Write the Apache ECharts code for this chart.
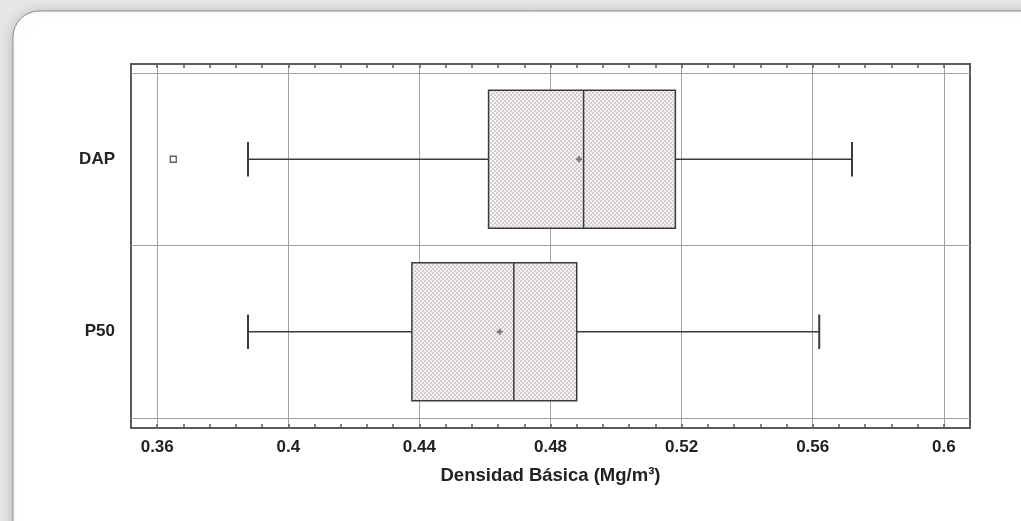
<!DOCTYPE html>
<html>
<head>
<meta charset="utf-8">
<script src="https://cdn.jsdelivr.net/npm/echarts@6/dist/echarts.min.js"></script>
<style>
  html, body { margin: 0; padding: 0; background: #e7e7e7; }
  #main { width: 1021px; height: 521px; }
</style>
</head>
<body>
<div id="main"></div>
<script>
// datos
const categories = ['DAP', 'P50'];
const whiskerLow = [0.3877, 0.3877];
const q1 = [0.4611, 0.4377];
const median = [0.4901, 0.4688];
const q3 = [0.5181, 0.4880];
const whiskerHigh = [0.5720, 0.5620];
const means = [0.4887, 0.4645];
const outlierValues = [0.3649];
const outlierCats = ['DAP'];
const tickLabels = ['0.36', '0.4', '0.44', '0.48', '0.52', '0.56', '0.6'];

const boxData = categories.map((c, i) => [i, whiskerLow[i], q1[i], median[i], q3[i], whiskerHigh[i]]);
const meanData = categories.map((c, i) => [means[i], c]);
const outlierData = outlierValues.map((v, i) => [v, outlierCats[i]]);

// trama del relleno de las cajas
const pat = document.createElement('canvas');
pat.width = 4; pat.height = 4;
const pc = pat.getContext('2d');
pc.fillStyle = '#f5f3f3';
pc.fillRect(0, 0, 4, 4);
pc.fillStyle = '#d3cdcd';
pc.fillRect(0, 0, 2, 2);
pc.fillRect(2, 2, 2, 2);
const hatch = { image: pat, repeat: 'repeat' };

const gridColor = '#a89f9f';
const frameColor = '#5f5959';
const lineColor = '#3e3939';
const font = '"Liberation Sans", Arial, sans-serif';

const myChart = echarts.init(document.getElementById('main'));

function renderBox(params, api) {
  const cat = api.value(0);
  const band = api.size([0, 1])[1];
  const y = api.coord([api.value(3), cat])[1];
  const boxH = band * 0.8;
  const capH = band * 0.2;
  const xLow = api.coord([api.value(1), cat])[0];
  const xQ1 = api.coord([api.value(2), cat])[0];
  const xMed = api.coord([api.value(3), cat])[0];
  const xQ3 = api.coord([api.value(4), cat])[0];
  const xHigh = api.coord([api.value(5), cat])[0];
  const ls = { stroke: lineColor, lineWidth: 1.5 };
  return {
    type: 'group',
    children: [
      { type: 'line', shape: { x1: xLow, y1: y, x2: xQ1, y2: y }, style: ls },
      { type: 'line', shape: { x1: xQ3, y1: y, x2: xHigh, y2: y }, style: ls },
      { type: 'line', shape: { x1: xLow, y1: y - capH / 2, x2: xLow, y2: y + capH / 2 }, style: { stroke: lineColor, lineWidth: 2 } },
      { type: 'line', shape: { x1: xHigh, y1: y - capH / 2, x2: xHigh, y2: y + capH / 2 }, style: { stroke: lineColor, lineWidth: 2 } },
      { type: 'rect', shape: { x: xQ1, y: y - boxH / 2, width: xQ3 - xQ1, height: boxH }, style: { fill: hatch, stroke: lineColor, lineWidth: 1.5 } },
      { type: 'line', shape: { x1: xMed, y1: y - boxH / 2, x2: xMed, y2: y + boxH / 2 }, style: ls }
    ]
  };
}

const option = {
  backgroundColor: '#e7e7e7',
  animation: false,
  textStyle: { fontFamily: font },
  graphic: [
    {
      type: 'rect', z: -10, silent: true,
      shape: { x: 13, y: 11, width: 1040, height: 545, r: 26 },
      style: { fill: '#ffffff', stroke: '#8c8c8c', lineWidth: 1, shadowBlur: 14, shadowColor: 'rgba(0,0,0,0.22)', shadowOffsetY: 2 }
    }
  ],
  grid: [
    { left: 131, right: 51, top: 73, bottom: 103 },
    { left: 131, right: 51, top: 64, bottom: 93, show: true, borderColor: frameColor, borderWidth: 2, backgroundColor: 'transparent' }
  ],
  xAxis: [
    { type: 'value', gridIndex: 0, min: 0.352, max: 0.608, show: false },
    {
      type: 'value', gridIndex: 1, position: 'bottom', min: 0.352, max: 0.608, interval: 0.008,
      name: 'Densidad Básica (Mg/m³)', nameLocation: 'middle', nameGap: 38,
      nameTextStyle: { fontFamily: font, fontWeight: 'bold', fontSize: 18.5, color: '#222' },
      axisLine: { show: false },
      axisTick: { show: true, inside: true, length: 4, lineStyle: { color: frameColor, width: 1.5 } },
      axisLabel: {
        margin: 11, fontFamily: font, fontWeight: 'bold', fontSize: 17, color: '#222',
        formatter: function (v) {
          const k = Math.round((v - 0.36) / 0.04);
          if (k >= 0 && k < tickLabels.length && Math.abs(v - (0.36 + k * 0.04)) < 1e-6) return tickLabels[k];
          return '';
        }
      },
      splitLine: {
        show: true,
        lineStyle: { color: ['rgba(0,0,0,0)', gridColor, 'rgba(0,0,0,0)', 'rgba(0,0,0,0)', 'rgba(0,0,0,0)'], width: 1 }
      }
    },
    {
      type: 'value', gridIndex: 1, position: 'top', min: 0.352, max: 0.608, interval: 0.008,
      axisLine: { show: false },
      axisTick: { show: true, inside: true, length: 4, lineStyle: { color: frameColor, width: 1.5 } },
      axisLabel: { show: false },
      splitLine: { show: false }
    }
  ],
  yAxis: [
    {
      type: 'category', gridIndex: 0, data: categories, inverse: true,
      axisLine: { show: false }, axisTick: { show: false },
      axisLabel: { margin: 16, fontFamily: font, fontWeight: 'bold', fontSize: 17, color: '#222' },
      splitLine: { show: true, lineStyle: { color: gridColor, width: 1 } }
    },
    { type: 'value', gridIndex: 1, show: false, min: 0, max: 1 }
  ],
  series: [
    {
      type: 'custom', xAxisIndex: 0, yAxisIndex: 0,
      renderItem: renderBox,
      encode: { x: [1, 2, 3, 4, 5], y: 0 },
      data: boxData, z: 3
    },
    {
      type: 'scatter', xAxisIndex: 0, yAxisIndex: 0,
      symbol: 'path://M2,0h2v2h2v2h-2v2h-2v-2h-2v-2h2z', symbolSize: 6,
      itemStyle: { color: '#5e5858' },
      data: meanData, z: 4
    },
    {
      type: 'scatter', xAxisIndex: 0, yAxisIndex: 0,
      symbol: 'rect', symbolSize: 6,
      itemStyle: { color: '#ffffff', borderColor: '#333', borderWidth: 1.3 },
      data: outlierData, z: 4
    }
  ]
};

myChart.setOption(option);
</script>
</body>
</html>
